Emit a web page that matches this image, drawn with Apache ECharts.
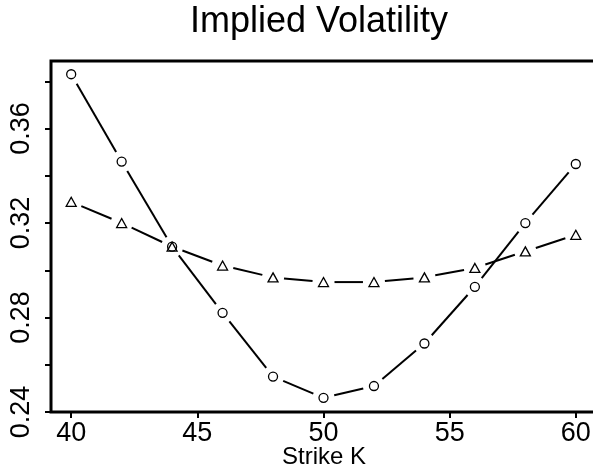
<!DOCTYPE html>
<html>
<head>
<meta charset="utf-8">
<script src="https://cdn.jsdelivr.net/npm/echarts@6/dist/echarts.min.js"></script>
<style>
html,body{margin:0;padding:0;background:#fff;}
#main{width:593px;height:467px;}
</style>
</head>
<body>
<div id="main"></div>
<script>
// 数据
var strikes = [40, 42, 44, 46, 48, 50, 52, 54, 56, 58, 60];
var ivCircle = [0.383, 0.346, 0.310, 0.282, 0.255, 0.246, 0.251, 0.269, 0.293, 0.320, 0.345];
var ivTriangle = [0.329, 0.320, 0.310, 0.302, 0.297, 0.295, 0.295, 0.297, 0.301, 0.308, 0.315];
var xTicks = [40, 45, 50, 55, 60];
var yTicks = [0.24, 0.26, 0.28, 0.30, 0.32, 0.34, 0.36, 0.38];
var yLabels = [0.24, 0.28, 0.32, 0.36];

var font = "'Liberation Sans', Arial, Helvetica, sans-serif";
var gap = 11; // 点两侧留白 (R type="b")

function pairs(ys){
    return strikes.map(function(x, i){ return [x, ys[i]]; });
}
function segments(ys){
    var out = [];
    for (var i = 0; i < strikes.length - 1; i++) {
        out.push([strikes[i], ys[i], strikes[i + 1], ys[i + 1]]);
    }
    return out;
}

// 线段两端各缩短 gap 像素
function renderSeg(params, api){
    var p1 = api.coord([api.value(0), api.value(1)]);
    var p2 = api.coord([api.value(2), api.value(3)]);
    var dx = p2[0] - p1[0], dy = p2[1] - p1[1];
    var len = Math.sqrt(dx * dx + dy * dy);
    if (len <= gap * 2) return null;
    var ux = dx / len, uy = dy / len;
    return {
        type: 'line',
        shape: {
            x1: p1[0] + ux * gap, y1: p1[1] + uy * gap,
            x2: p2[0] - ux * gap, y2: p2[1] - uy * gap
        },
        style: {stroke: '#000', lineWidth: 2}
    };
}

function lineSeries(ys){
    return {
        type: 'custom',
        data: segments(ys),
        encode: {x: [0, 2], y: [1, 3]},
        renderItem: renderSeg,
        clip: false,
        z: 2,
        silent: true
    };
}
function markSeries(ys, sym, size){
    return {
        type: 'scatter',
        data: pairs(ys),
        symbol: sym,
        symbolSize: size,
        itemStyle: {color: 'rgba(0,0,0,0)', borderColor: '#000', borderWidth: 1.3, opacity: 1},
        z: 4,
        silent: true
    };
}

var myChart = echarts.init(document.getElementById('main'));
myChart.setOption({
    backgroundColor: '#fff',
    animation: false,
    title: {
        text: 'Implied Volatility',
        left: 190,
        top: 4,
        padding: 0,
        textStyle: {fontFamily: font, fontSize: 36, fontWeight: 'normal', color: '#000'}
    },
    grid: {
        left: 51, right: -4, top: 61, bottom: 55,
        outerBoundsMode: 'none',
        show: true, borderColor: '#000', borderWidth: 3, backgroundColor: 'transparent'
    },
    xAxis: {
        type: 'value',
        min: 39.2, max: 60.84,
        name: 'Strike K',
        nameLocation: 'middle',
        nameGap: 33,
        nameMoveOverlap: false,
        nameTextStyle: {fontFamily: font, fontSize: 24, color: '#000'},
        axisLine: {show: false},
        axisTick: {show: true, length: 6, lineStyle: {color: '#000', width: 2}, customValues: xTicks},
        axisLabel: {fontFamily: font, fontSize: 27, color: '#000', margin: 8, customValues: xTicks},
        splitLine: {show: false}
    },
    yAxis: {
        type: 'value',
        min: 0.24, max: 0.3886,
        axisLine: {show: false},
        axisTick: {show: true, length: 6, lineStyle: {color: '#000', width: 2}, customValues: yTicks},
        axisLabel: {
            fontFamily: font, fontSize: 27, color: '#000', margin: 16, rotate: 90,
            customValues: yLabels,
            formatter: function(v){ return v.toFixed(2); }
        },
        splitLine: {show: false}
    },
    series: [
        lineSeries(ivCircle),
        lineSeries(ivTriangle),
        markSeries(ivCircle, 'circle', 9),
        markSeries(ivTriangle, 'triangle', [10, 9])
    ]
});
window.addEventListener("resize", function() {
    myChart.resize();
});
</script>
</body>
</html>
